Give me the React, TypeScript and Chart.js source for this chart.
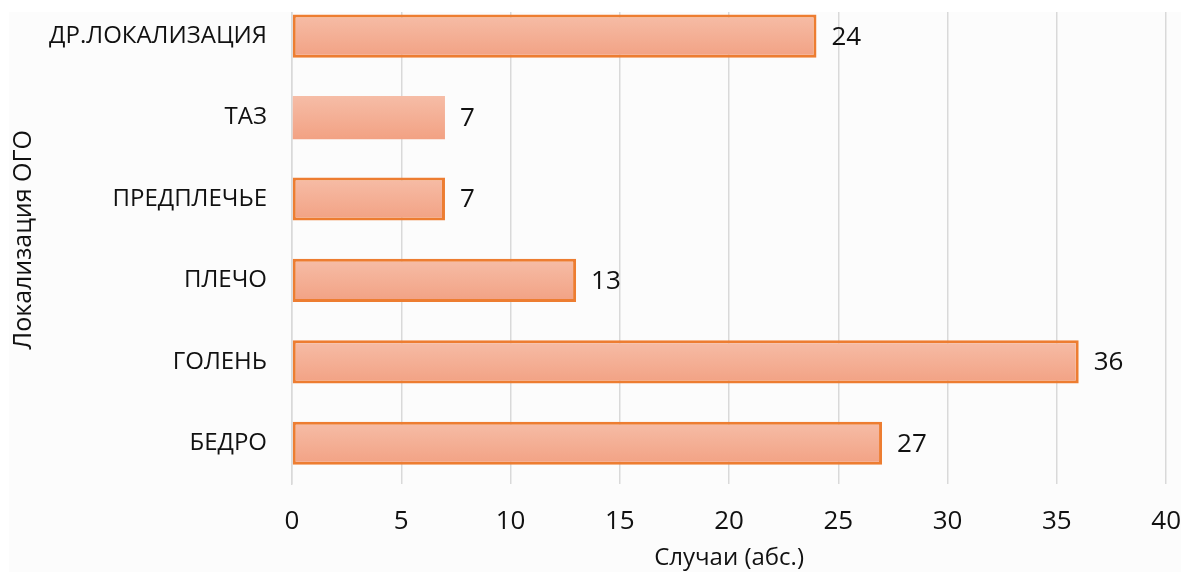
import React, { useEffect, useRef } from "react";
import { Chart, registerables } from "chart.js";

Chart.register(...registerables);

const categories = ["ДР.ЛОКАЛИЗАЦИЯ", "ТАЗ", "ПРЕДПЛЕЧЬЕ", "ПЛЕЧО", "ГОЛЕНЬ", "БЕДРО"];
const cases = [24, 7, 7, 13, 36, 27];
const xMin = 0;
const xMax = 40;
const xStep = 5;
const xTitle = "Случаи (абс.)";
const yTitle = "Локализация ОГО";
const borderWidths = [3, 0, 3, 3, 3, 3];

const FONT = '"Open Sans", "Noto Sans", sans-serif';
const TEXT = "#111111";

const valueLabels = {
  id: "valueLabels",
  afterDatasetsDraw(chart: any) {
    const { ctx } = chart;
    const meta = chart.getDatasetMeta(0);
    ctx.save();
    ctx.font = `26px ${FONT}`;
    ctx.fillStyle = TEXT;
    ctx.textBaseline = "middle";
    ctx.textAlign = "left";
    meta.data.forEach((bar: any, i: number) => {
      ctx.fillText(String(cases[i]), bar.x + 15, bar.y + 1);
    });
    ctx.restore();
  },
};

export default function App() {
  const canvasRef = useRef<HTMLCanvasElement | null>(null);

  useEffect(() => {
    if (!canvasRef.current) return;
    const chart = new Chart(canvasRef.current, {
      type: "bar",
      data: {
        labels: categories,
        datasets: [
          {
            data: cases,
            backgroundColor: (c: any) => {
              const ch = c.chart;
              const ys = ch.scales && ch.scales.y;
              if (!ys || c.dataIndex === undefined) return "#f4ad92";
              const cy = ys.getPixelForValue(c.dataIndex);
              if (!Number.isFinite(cy)) return "#f4ad92";
              const g = ch.ctx.createLinearGradient(0, cy - 22, 0, cy + 22);
              g.addColorStop(0, "#f6bda7");
              g.addColorStop(1, "#f2a183");
              return g;
            },
            borderColor: "#ed7d31",
            borderWidth: borderWidths,
            borderSkipped: false,
            categoryPercentage: 1,
            barPercentage: 0.53,
          },
        ],
      },
      options: {
        indexAxis: "y",
        animation: false,
        responsive: true,
        maintainAspectRatio: false,
        layout: { padding: { left: 0, right: 0, top: 0, bottom: 0 } },
        plugins: {
          legend: { display: false },
          tooltip: { enabled: false },
        },
        scales: {
          x: {
            min: xMin,
            max: xMax,
            ticks: {
              stepSize: xStep,
              padding: 22,
              color: TEXT,
              font: { family: FONT, size: 26 },
            },
            grid: { color: "#d9d9d9", lineWidth: 1.5, drawTicks: false },
            border: { display: false },
            title: {
              display: true,
              text: xTitle,
              color: TEXT,
              font: { family: FONT, size: 24 },
              padding: { top: 0, bottom: 1 },
            },
            afterFit: (s: any) => {
              s.height = 90;
            },
          },
          y: {
            ticks: {
              padding: 25,
              color: TEXT,
              font: { family: FONT, size: 24 },
            },
            grid: { display: false, drawTicks: false },
            border: { display: true, color: "#d9d9d9", width: 1.5 },
            title: {
              display: true,
              text: yTitle,
              color: TEXT,
              font: { family: FONT, size: 25 },
              padding: { top: 0, bottom: 0 },
            },
            afterFit: (s: any) => {
              s.width = 283;
            },
          },
        },
      },
      plugins: [valueLabels],
    } as any);
    return () => chart.destroy();
  }, []);

  return (
    <div
      style={{
        marginLeft: 1,
        marginTop: 4,
        width: 1173,
        height: 560,
        overflow: "hidden",
        position: "relative",
        background: "#fcfcfc",
      }}
    >
      <div style={{ position: "absolute", left: 0, top: -56, width: 1194, height: 618 }}>
        <canvas ref={canvasRef} />
      </div>
    </div>
  );
}
